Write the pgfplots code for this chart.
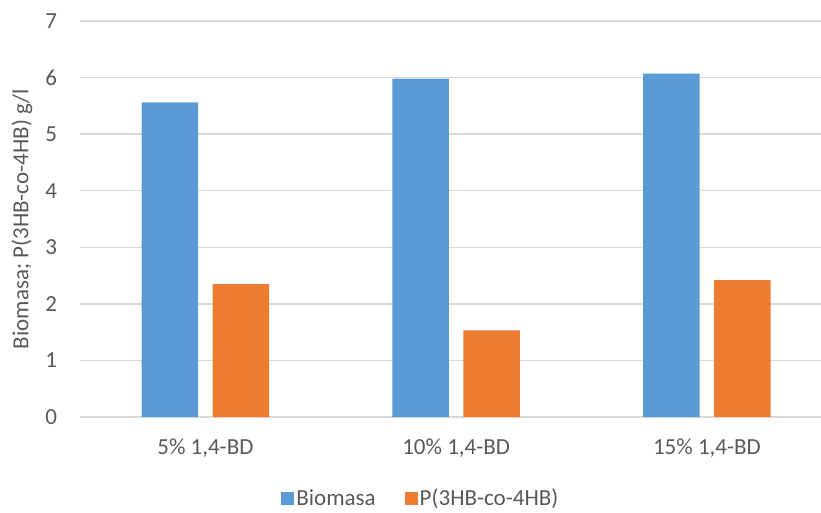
\documentclass[border=0pt]{standalone}
\usepackage{fontspec}
\setmainfont{Carlito}
\usepackage{pgfplots}
\pgfplotsset{compat=1.18}
\definecolor{cblue}{HTML}{5B9BD5}
\definecolor{corange}{HTML}{ED7D31}
\definecolor{cgrid}{HTML}{D9D9D9}
\definecolor{ctext}{HTML}{595959}
\begin{document}
\fontsize{23}{28}\selectfont
\begin{tikzpicture}[x=1pt,y=1pt]
\path[use as bounding box] (0,0) rectangle (821,512);
\begin{axis}[
  at={(80pt,95pt)}, anchor=south west,
  scale only axis, width=741pt, height=396pt,
  xmin=-0.5, xmax=2.455, ymin=0, ymax=7,
  ybar=14.5pt, bar width=56.5pt,
  xtick={0,1,2}, xticklabels={{5\% 1,4-BD}, {10\% 1,4-BD}, {15\% 1,4-BD}},
  ytick={0,1,...,7},
  major tick length=0pt,
  axis line style={draw=none},
  ymajorgrids, grid style={cgrid, line width=1.5pt},
  extra y ticks={0}, extra y tick style={grid style={cgrid,line width=1.8pt}, yticklabels={}},
  tick label style={font=\fontsize{23}{28}\selectfont, text=ctext},
  /pgf/number format/assume math mode=true,
  yticklabel style={xshift=-15pt},
  xticklabel style={yshift=-14pt},
  ylabel={Biomasa; P(3HB-co-4HB) g/l},
  ylabel style={font=\fontsize{23}{28}\selectfont, text=ctext, at={(rel axis cs:0,0.5)}, anchor=center, yshift=58pt},
  legend style={draw=none, fill=none, at={(0.460,-0.207)}, anchor=center,
    legend columns=2, font=\fontsize{23}{28}\selectfont, text=ctext,
    /tikz/every even column/.append style={column sep=27pt}},
  legend image code/.code={\fill[#1] (0pt,-6.5pt) rectangle (13pt,6.5pt);},
  clip=false,
]
\addplot[fill=cblue, draw=none] coordinates {(0,5.56) (1,5.98) (2,6.07)};
\addplot[fill=corange, draw=none] coordinates {(0,2.35) (1,1.53) (2,2.42)};
\legend{Biomasa, P(3HB-co-4HB)}
\end{axis}
\end{tikzpicture}
\end{document}
